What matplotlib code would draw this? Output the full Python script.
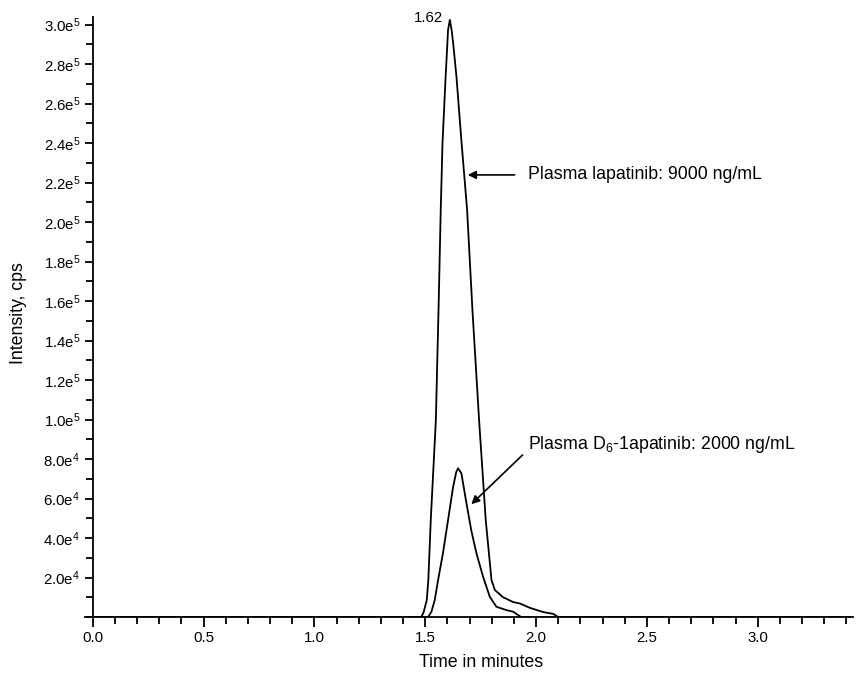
import numpy as np
import matplotlib.pyplot as plt
from matplotlib.ticker import MultipleLocator, FixedLocator, FuncFormatter

plt.rcParams['font.family'] = ['Liberation Sans', 'DejaVu Sans']
plt.rcParams['mathtext.fontset'] = 'custom'
plt.rcParams['mathtext.rm'] = 'Liberation Sans'
plt.rcParams['mathtext.it'] = 'Liberation Sans:italic'

# lapatinib trace (time in min, intensity in cps)
time_lap = [0.0, 1.482, 1.493, 1.507, 1.514, 1.525, 1.548, 1.560, 1.570, 1.578, 1.592,
            1.600, 1.603, 1.611, 1.619, 1.626, 1.641, 1.664, 1.689, 1.713, 1.743, 1.773,
            1.799, 1.814, 1.850, 1.896, 1.928, 1.973, 2.032, 2.077, 2.102, 3.43]
int_lap = [0, 0, 2.6e3, 8.7e3, 1.88e4, 4.92e4, 9.98e4, 1.555e5, 2.062e5, 2.401e5, 2.735e5,
           2.907e5, 2.973e5, 3.024e5, 2.973e5, 2.907e5, 2.735e5, 2.401e5, 2.062e5, 1.555e5,
           9.98e4, 4.92e4, 1.88e4, 1.38e4, 1.02e4, 7.7e3, 6.9e3, 4.7e3, 2.6e3, 1.7e3, 0, 0]

# D6-lapatinib (internal standard) trace
time_d6 = [0.0, 1.513, 1.528, 1.543, 1.558, 1.580, 1.603, 1.626, 1.640, 1.648, 1.663,
           1.686, 1.708, 1.731, 1.761, 1.791, 1.821, 1.866, 1.896, 1.934, 3.43]
int_d6 = [0, 0, 2.8e3, 8.7e3, 1.88e4, 3.24e4, 4.92e4, 6.61e4, 7.35e4, 7.54e4, 7.29e4,
          5.77e4, 4.38e4, 3.24e4, 2.05e4, 1.04e4, 5.3e3, 3.6e3, 2.8e3, 0, 0]

y_major = np.arange(2e4, 3.01e5, 2e4)


def sci_label(v, pos):
    exp = int(np.floor(np.log10(v)))
    return r'$\mathrm{%.1fe}^{%d}$' % (v / 10**exp, exp)


fig = plt.figure(figsize=(8.56, 6.75), dpi=100)
ax = fig.add_axes([85/856, 1 - 617.2/675, 768/856, 600.5/675])

ax.plot(time_lap, int_lap, color='black', lw=1.3)
ax.plot(time_d6, int_d6, color='black', lw=1.3)

ax.set_xlim(-0.035, 3.43)
ax.set_ylim(0, 3.04e5)

for s in ['top', 'right']:
    ax.spines[s].set_visible(False)
ax.spines['left'].set_position(('data', 0))
for s in ['left', 'bottom']:
    ax.spines[s].set_linewidth(1.3)

ax.xaxis.set_major_locator(MultipleLocator(0.5))
ax.xaxis.set_minor_locator(MultipleLocator(0.1))
ax.xaxis.set_major_formatter(FuncFormatter(lambda v, p: '%.1f' % v))
ax.yaxis.set_major_locator(FixedLocator(y_major))
ax.yaxis.set_minor_locator(MultipleLocator(1e4))
ax.yaxis.set_major_formatter(FuncFormatter(sci_label))

ax.tick_params(axis='x', which='major', length=7, width=1.3, labelsize=10.8, pad=3)
ax.tick_params(axis='x', which='minor', length=5, width=1.3)
ax.tick_params(axis='y', which='major', length=6, width=1.3, labelsize=10.8, pad=3)
ax.tick_params(axis='y', which='minor', length=5, width=1.3)

ax.set_xlabel('Time in minutes', fontsize=12.8)
ax.xaxis.set_label_coords((481 - 85) / 768, -0.062)
ax.set_ylabel('Intensity, cps', fontsize=12.8)
ax.yaxis.set_label_coords(-0.076, 0.507)

# peak label and arrows
ax.text(1.582, 3.032e5, '1.62', fontsize=10.8, ha='right', va='center')
ax.annotate('', xy=(1.692, 2.239e5), xytext=(1.903, 2.239e5),
            arrowprops=dict(arrowstyle='-|>', color='black', lw=1.2,
                            mutation_scale=12, shrinkA=0, shrinkB=0))
ax.text(1.963, 2.239e5, 'Plasma lapatinib: 9000 ng/mL', fontsize=12.8,
        ha='left', va='center')
ax.annotate('', xy=(1.708, 5.72e4), xytext=(1.939, 8.21e4),
            arrowprops=dict(arrowstyle='-|>', color='black', lw=1.2,
                            mutation_scale=12, shrinkA=0, shrinkB=0))
ax.text(1.963, 8.72e4, r'Plasma D$_6$-1apatinib: 2000 ng/mL', fontsize=12.8,
        ha='left', va='center')

fig.savefig('out.png', dpi=100)
